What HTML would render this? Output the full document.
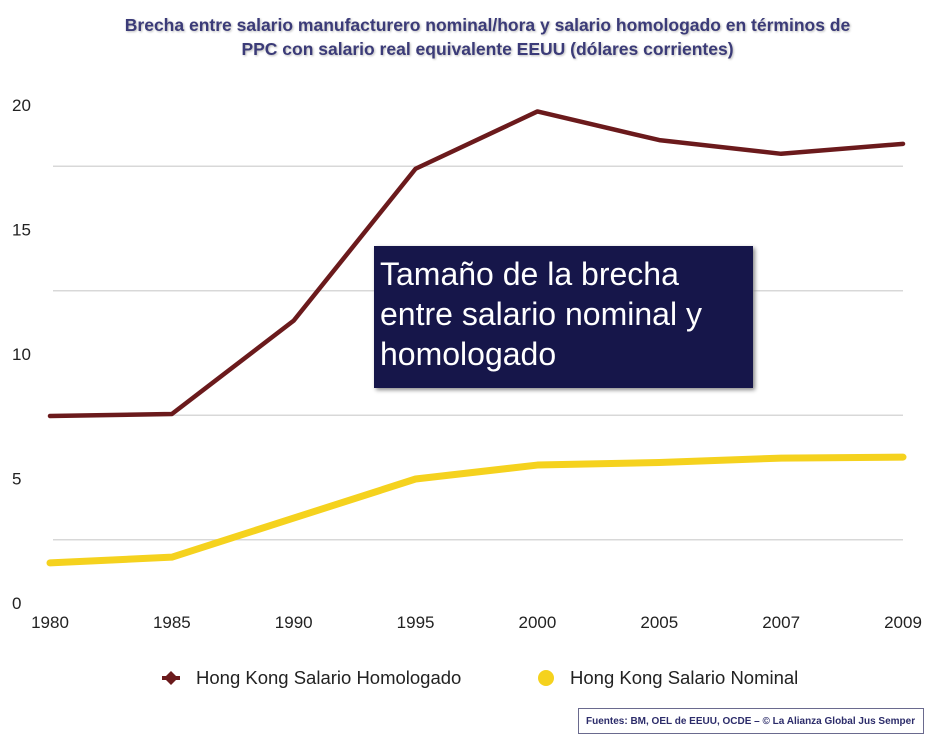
<!DOCTYPE html>
<html><head><meta charset="utf-8"><style>
body{margin:0;background:#fff;width:930px;height:740px;overflow:hidden;font-family:"Liberation Sans",sans-serif;position:relative}
.title{position:absolute;left:0;top:13px;width:975px;text-align:center;font-weight:bold;font-size:17.5px;color:#3b3b78;line-height:24px;text-shadow:1px 1px 2px #bbb}
.note{position:absolute;left:374px;top:246px;width:379px;height:142px;background:#16164a;color:#fff;font-size:32px;line-height:40px;padding:8px 0 0 6px;box-sizing:border-box;box-shadow:2px 2px 4px #888}
.foot{position:absolute;left:578px;top:708px;width:346px;height:26px;border:1px solid #6a6a8e;box-sizing:border-box;font-size:10px;font-weight:bold;color:#2c2c6a;padding:7px 0 0 7px}
</style></head><body>
<div class="title">Brecha entre salario manufacturero nominal/hora y salario homologado en términos de<br>PPC con salario real equivalente EEUU (dólares corrientes)</div>
<svg id="c" width="930" height="740" style="position:absolute;left:0;top:0"></svg>
<div class="note">Tamaño de la brecha entre salario nominal y homologado</div>
<div class="foot">Fuentes: BM, OEL de EEUU, OCDE – © La Alianza Global Jus Semper</div>
<script>
const categories=["1980","1985","1990","1995","2000","2005","2007","2009"];
const homologado=[7.47,7.55,11.3,17.4,19.7,18.55,18.0,18.4];
const nominal=[1.57,1.8,3.37,4.94,5.5,5.6,5.78,5.82];
const yTicks=[0,5,10,15,20];
const gridVals=[2.5,7.5,12.5,17.5];
const NS="http://www.w3.org/2000/svg";
const svg=document.getElementById('c');
const x=i=>50+i*(903-50)/(categories.length-1);
const y=v=>602-v*24.9;
function mk(t,a){const e=document.createElementNS(NS,t);for(const k in a)e.setAttribute(k,a[k]);svg.appendChild(e);return e;}
gridVals.forEach(v=>{const l=mk('line',{x1:53,x2:903,y1:y(v),y2:y(v),stroke:'#d8d8d8','stroke-width':1.5});

});
yTicks.forEach(v=>{const t=mk('text',{x:12,y:y(v)+7,'font-size':17,fill:'#222','font-family':'Liberation Sans, sans-serif'});t.textContent=v;

});
categories.forEach((c,i)=>{const t=mk('text',{x:x(i),y:628,'font-size':17,fill:'#222','text-anchor':'middle','font-family':'Liberation Sans, sans-serif'});t.textContent=c;

});
function series(d,col,w,name){const p=mk('polyline',{points:d.map((v,i)=>x(i)+','+y(v)).join(' '),fill:'none',stroke:col,'stroke-width':w,'stroke-linejoin':'round','stroke-linecap':'round'});

}
series(homologado,'#6b1a1c',4.5,'line-homologado');
series(nominal,'#f5d21e',7,'line-nominal');
const lg0=mk('line',{x1:162,x2:180,y1:678,y2:678,stroke:'#6b1a1c','stroke-width':4});


const lg1=mk('path',{d:'M164 678 l7 -7 l7 7 l-7 7z',fill:'#6b1a1c'});


const t1=mk('text',{x:196,y:684,'font-size':18.5,fill:'#222','font-family':'Liberation Sans, sans-serif'});t1.textContent='Hong Kong Salario Homologado';


const lg2=mk('circle',{cx:546,cy:678,r:8,fill:'#f5d21e'});


const t2=mk('text',{x:570,y:684,'font-size':18.5,fill:'#222','font-family':'Liberation Sans, sans-serif'});t2.textContent='Hong Kong Salario Nominal';


</script>
</body></html>
